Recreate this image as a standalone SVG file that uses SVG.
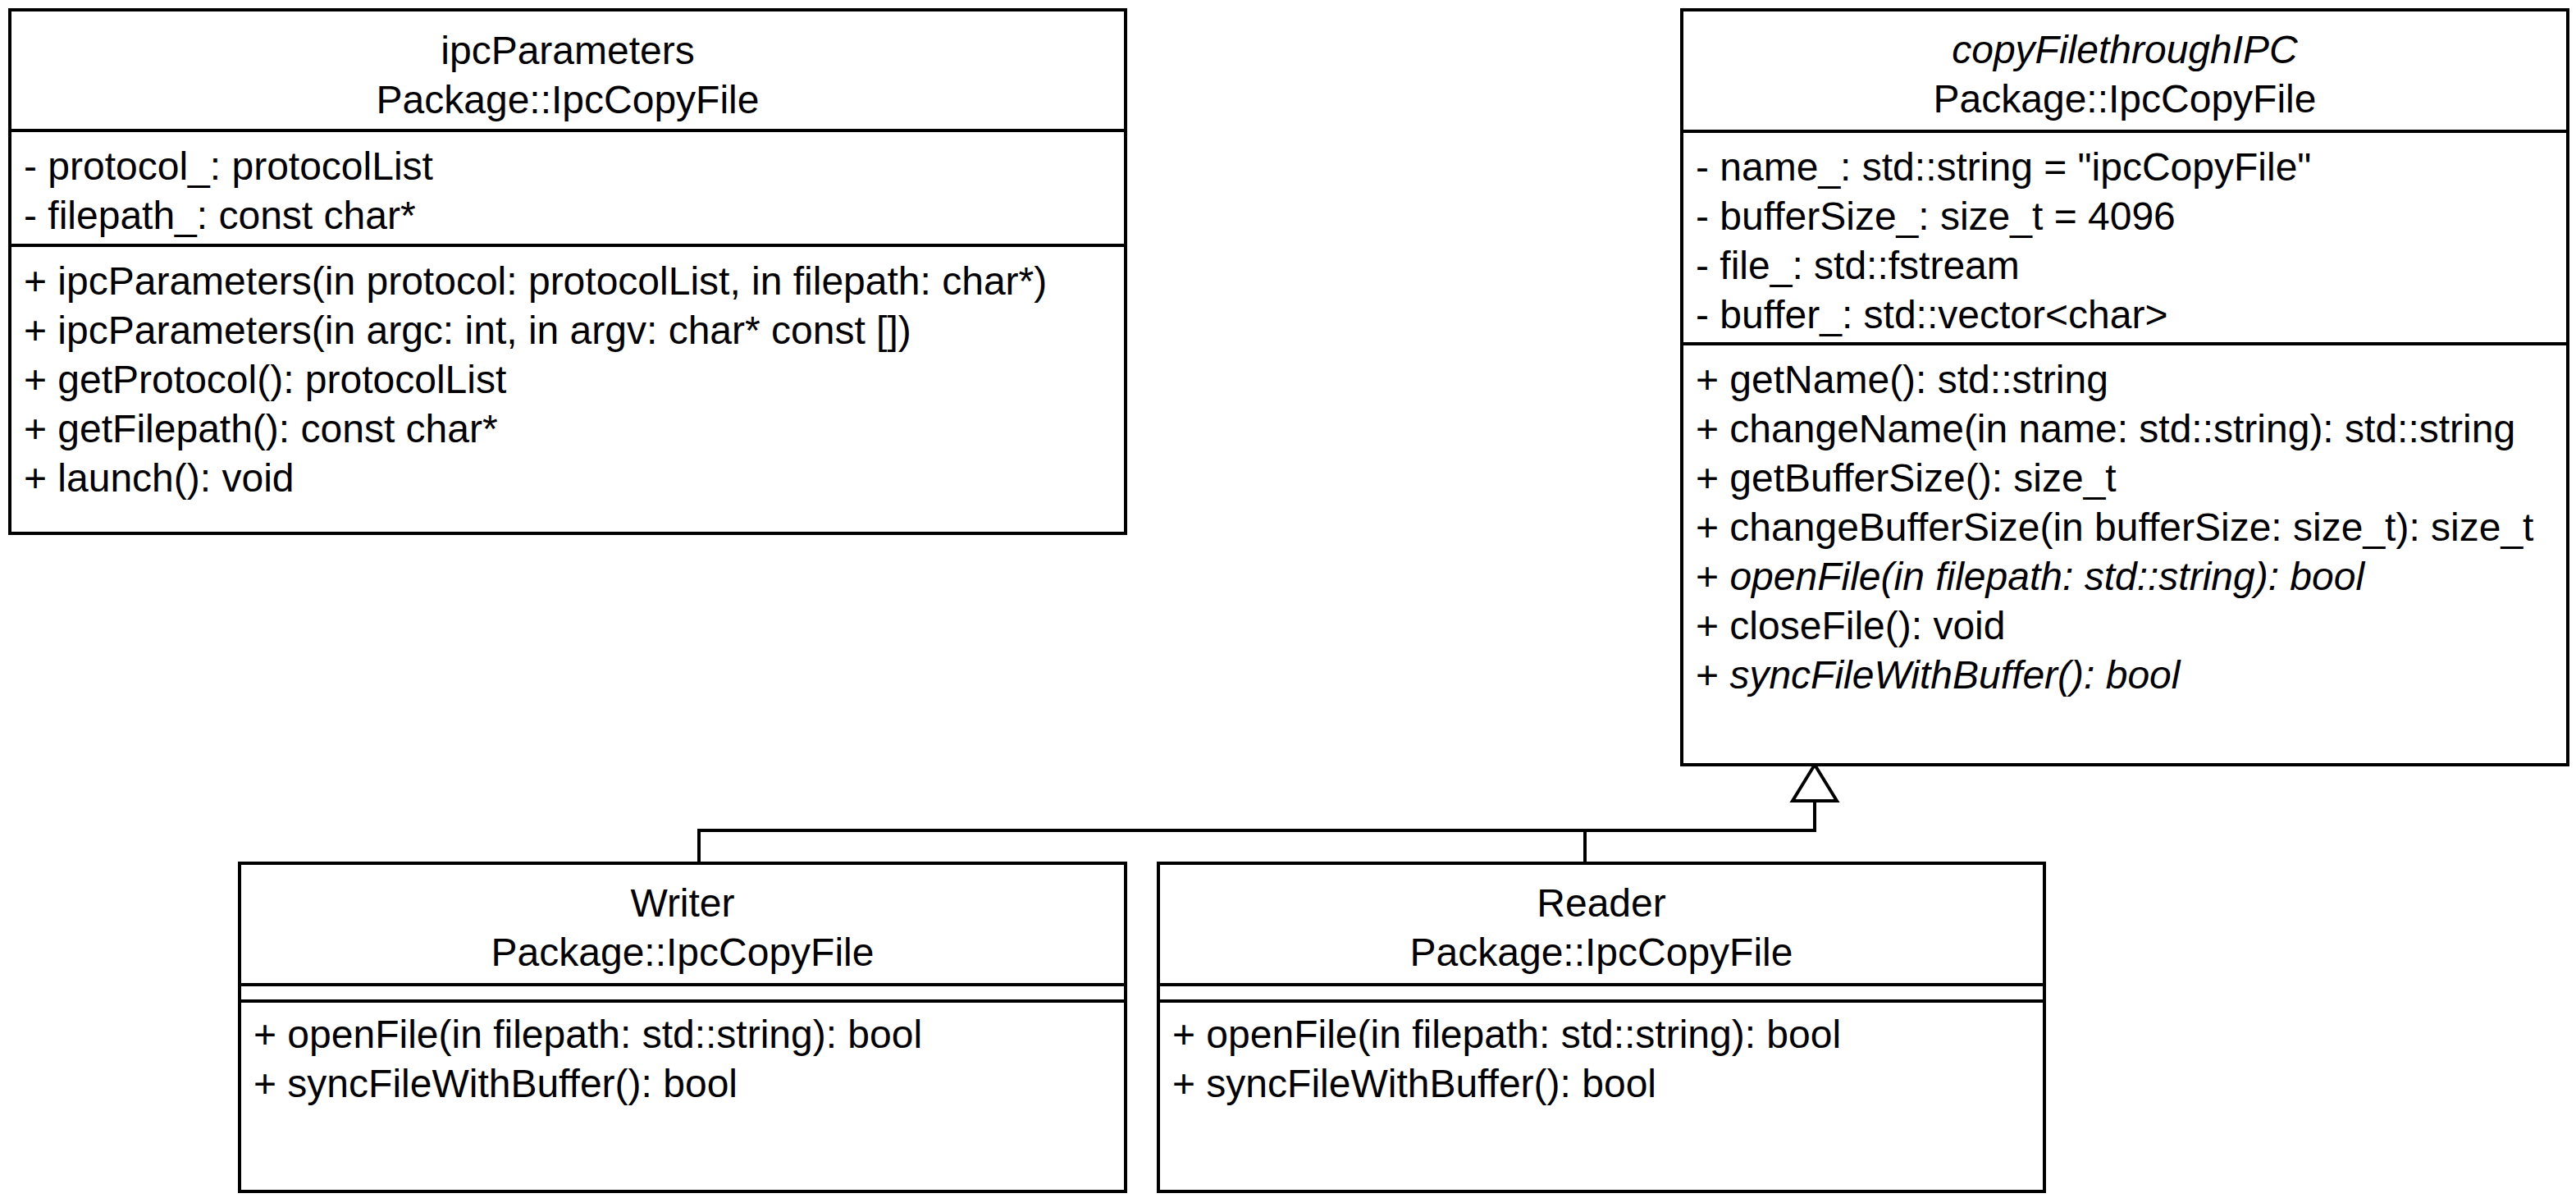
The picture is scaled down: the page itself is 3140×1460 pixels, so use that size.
<svg xmlns="http://www.w3.org/2000/svg" width="3140" height="1460" viewBox="0 0 3140 1460">
  <style>
    .box { fill: #ffffff; stroke: #000000; stroke-width: 4; }
    .sep { stroke: #000000; stroke-width: 4; fill: none; }
    .edge { stroke: #000000; stroke-width: 4; fill: none; stroke-linejoin: miter; }
    .head { fill: #ffffff; stroke: #000000; stroke-width: 4; stroke-linejoin: miter; }
    text { font-family: "Liberation Sans", Arial, sans-serif; font-size: 48px; fill: #000000; }
    .title { text-anchor: middle; }
    .abs { font-style: italic; }
  </style>

  <!-- generalization connectors: Writer and Reader to copyFilethroughIPC -->
  <g id="connectors">
    <path class="edge" d="M852,1052 L852,1012 L2212,1012 L2212,976"/>
    <path class="edge" d="M1932,1052 L1932,1012"/>
    <path class="head" d="M2212,932 L2239,976 L2185,976 Z"/>
  </g>

  <!-- class: ipcParameters -->
  <g id="ipcParameters">
    <rect class="box" x="12" y="12" width="1360" height="638"/>
    <line class="sep" x1="12" y1="159" x2="1372" y2="159"/>
    <line class="sep" x1="12" y1="299" x2="1372" y2="299"/>
    <text class="title" x="692" y="78">ipcParameters</text>
    <text class="title" x="692" y="138">Package::IpcCopyFile</text>
    <text x="29" y="219">- protocol_: protocolList</text>
    <text x="29" y="279">- filepath_: const char*</text>
    <text x="29" y="359">+ ipcParameters(in protocol: protocolList, in filepath: char*)</text>
    <text x="29" y="419">+ ipcParameters(in argc: int, in argv: char* const [])</text>
    <text x="29" y="479">+ getProtocol(): protocolList</text>
    <text x="29" y="539">+ getFilepath(): const char*</text>
    <text x="29" y="599">+ launch(): void</text>
  </g>

  <!-- class: copyFilethroughIPC (abstract) -->
  <g id="copyFilethroughIPC">
    <rect class="box" x="2050" y="12" width="1080" height="920"/>
    <line class="sep" x1="2050" y1="160" x2="3130" y2="160"/>
    <line class="sep" x1="2050" y1="419" x2="3130" y2="419"/>
    <text class="title abs" x="2590" y="77">copyFilethroughIPC</text>
    <text class="title" x="2590" y="137">Package::IpcCopyFile</text>
    <text x="2067" y="220">- name_: std::string = "ipcCopyFile"</text>
    <text x="2067" y="280">- bufferSize_: size_t = 4096</text>
    <text x="2067" y="340">- file_: std::fstream</text>
    <text x="2067" y="400">- buffer_: std::vector&lt;char&gt;</text>
    <text x="2067" y="479">+ getName(): std::string</text>
    <text x="2067" y="539">+ changeName(in name: std::string): std::string</text>
    <text x="2067" y="599">+ getBufferSize(): size_t</text>
    <text x="2067" y="659">+ changeBufferSize(in bufferSize: size_t): size_t</text>
    <text x="2067" y="719">+ <tspan class="abs">openFile(in filepath: std::string): bool</tspan></text>
    <text x="2067" y="779">+ closeFile(): void</text>
    <text x="2067" y="839">+ <tspan class="abs">syncFileWithBuffer(): bool</tspan></text>
  </g>

  <!-- class: Writer -->
  <g id="Writer">
    <rect class="box" x="292" y="1052" width="1080" height="400"/>
    <line class="sep" x1="292" y1="1200" x2="1372" y2="1200"/>
    <line class="sep" x1="292" y1="1220" x2="1372" y2="1220"/>
    <text class="title" x="832" y="1117">Writer</text>
    <text class="title" x="832" y="1177">Package::IpcCopyFile</text>
    <text x="309" y="1277">+ openFile(in filepath: std::string): bool</text>
    <text x="309" y="1337">+ syncFileWithBuffer(): bool</text>
  </g>

  <!-- class: Reader -->
  <g id="Reader">
    <rect class="box" x="1412" y="1052" width="1080" height="400"/>
    <line class="sep" x1="1412" y1="1200" x2="2492" y2="1200"/>
    <line class="sep" x1="1412" y1="1220" x2="2492" y2="1220"/>
    <text class="title" x="1952" y="1117">Reader</text>
    <text class="title" x="1952" y="1177">Package::IpcCopyFile</text>
    <text x="1429" y="1277">+ openFile(in filepath: std::string): bool</text>
    <text x="1429" y="1337">+ syncFileWithBuffer(): bool</text>
  </g>
</svg>
